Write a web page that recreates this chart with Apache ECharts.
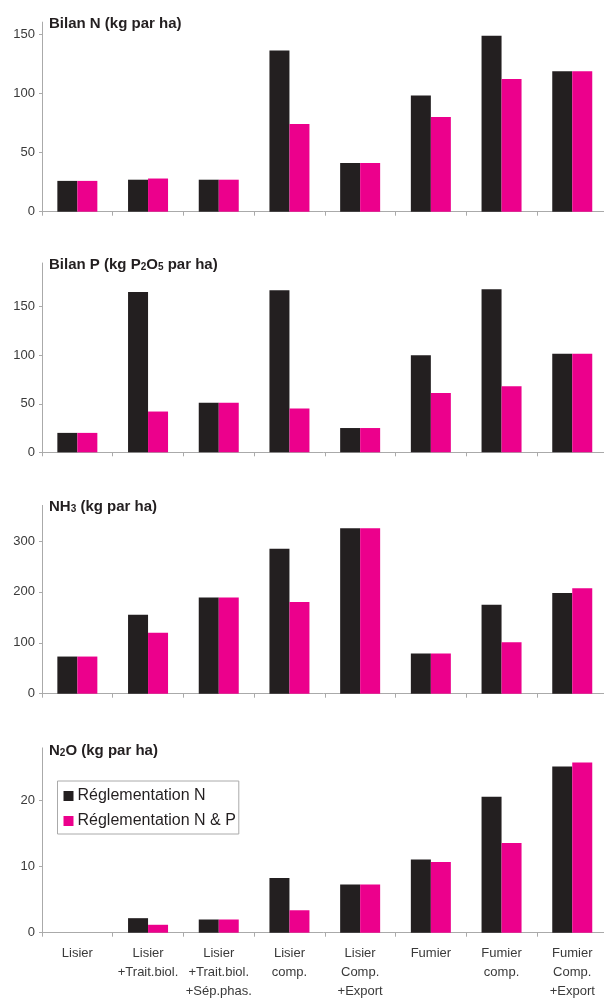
<!DOCTYPE html>
<html>
<head>
<meta charset="utf-8">
<script src="https://cdn.jsdelivr.net/npm/echarts@6/dist/echarts.min.js"></script>
<style>
html,body{margin:0;padding:0;background:#fff;}
#c{width:604px;height:998px;}
</style>
</head>
<body>
<div id="c"></div>
<script>
// ---- data ----
const categories = ['Lisier', 'Lisier\n+Trait.biol.', 'Lisier\n+Trait.biol.\n+Sép.phas.', 'Lisier\ncomp.', 'Lisier\nComp.\n+Export', 'Fumier', 'Fumier\ncomp.', 'Fumier\nComp.\n+Export'];
const seriesNames = ['Réglementation N', 'Réglementation N & P'];

const bilanN_regN  = [26, 27, 27, 136, 41, 98, 148.5, 118.5];
const bilanN_regNP = [26, 28, 27, 74, 41, 80, 112, 118.5];

const bilanP_regN  = [20, 165, 51, 167, 25, 100, 168, 101.5];
const bilanP_regNP = [20, 42, 51, 45, 25, 61, 68, 101.5];

const nh3_regN  = [73, 155, 189, 285, 325, 79, 175, 198];
const nh3_regNP = [73, 120, 189, 180, 325, 79, 101, 207];

const n2o_regN  = [0, 2.2, 2, 8.3, 7.3, 11.1, 20.6, 25.2];
const n2o_regNP = [0, 1.2, 2, 3.4, 7.3, 10.7, 13.6, 25.8];

const ticksN   = [0, 50, 100, 150];
const ticksP   = [0, 50, 100, 150];
const ticksNH3 = [0, 100, 200, 300];
const ticksN2O = [0, 10, 20];

const titles = [
  'Bilan N (kg par ha)',
  'Bilan P (kg P{sub|2}O{sub|5} par ha)',
  'NH{sub|3} (kg par ha)',
  'N{sub|2}O (kg par ha)'
];

// ---- layout / style ----
const panels = [
  {regN: bilanN_regN, regNP: bilanN_regNP, ticks: ticksN,   max: 160, top: 22.1,  height: 189.6, titleTop: 16},
  {regN: bilanP_regN, regNP: bilanP_regNP, ticks: ticksP,   max: 195, top: 263,   height: 189.3, titleTop: 257},
  {regN: nh3_regN,    regNP: nh3_regNP,    ticks: ticksNH3, max: 370, top: 505.4, height: 188.3, titleTop: 499},
  {regN: n2o_regN,    regNP: n2o_regNP,    ticks: ticksN2O, max: 28,  top: 747.9, height: 184.8, titleTop: 743}
];
const colorN = '#231f20';
const colorNP = '#ec008c';
const axisColor = '#aaaaaa';
const textColor = '#3a3a3a';
const font = '"Liberation Sans", Arial, sans-serif';

const grid = [], xAxis = [], yAxis = [], series = [], title = [];
panels.forEach((p, i) => {
  grid.push({left: 42, width: 565.6, top: p.top, height: p.height, outerBoundsMode: 'none', containLabel: false});
  title.push({
    text: titles[i], left: 49, top: p.titleTop, padding: 0,
    textStyle: {
      fontFamily: font, fontSize: 15, fontWeight: 'bold', color: '#231f20',
      rich: {sub: {fontFamily: font, fontSize: 10, fontWeight: 'bold', color: '#231f20', verticalAlign: 'bottom', lineHeight: 10, padding: [6, 0, 0, 0]}}
    }
  });
  xAxis.push({
    type: 'category', gridIndex: i, data: categories,
    axisLine: {show: true, lineStyle: {color: axisColor, width: 1}},
    axisTick: {show: true, length: 4, lineStyle: {color: axisColor}},
    axisLabel: {
      show: i === 3, interval: 0, margin: 11,
      fontFamily: font, fontSize: 13, lineHeight: 19, color: textColor
    }
  });
  yAxis.push({
    type: 'value', gridIndex: i, min: 0, max: p.max,
    splitLine: {show: false},
    axisLine: {show: true, lineStyle: {color: axisColor, width: 1}},
    axisTick: {show: true, length: 3, customValues: p.ticks, lineStyle: {color: axisColor}},
    axisLabel: {show: true, customValues: p.ticks, margin: 7, fontFamily: font, fontSize: 13, color: textColor}
  });
  series.push({
    name: seriesNames[0], type: 'bar', xAxisIndex: i, yAxisIndex: i, data: p.regN,
    barWidth: 20, barGap: '0%', itemStyle: {color: colorN}, animation: false
  });
  series.push({
    name: seriesNames[1], type: 'bar', xAxisIndex: i, yAxisIndex: i, data: p.regNP,
    barWidth: 20, barGap: '0%', itemStyle: {color: colorNP}, animation: false
  });
});

const chart = echarts.init(document.getElementById('c'), null, {renderer: 'canvas'});
chart.setOption({
  animation: false,
  backgroundColor: '#ffffff',
  title: title,
  legend: {
    data: seriesNames,
    orient: 'vertical', left: 57.5, top: 781,
    padding: [7, 3, 5, 6],
    itemWidth: 10, itemHeight: 10, itemGap: 9,
    icon: 'rect',
    borderColor: '#aaaaaa', borderWidth: 1, backgroundColor: '#ffffff',
    textStyle: {fontFamily: font, fontSize: 16, lineHeight: 16, color: '#231f20', padding: [0, 0, 0, -1]}
  },
  grid: grid, xAxis: xAxis, yAxis: yAxis, series: series
});
</script>
</body>
</html>
